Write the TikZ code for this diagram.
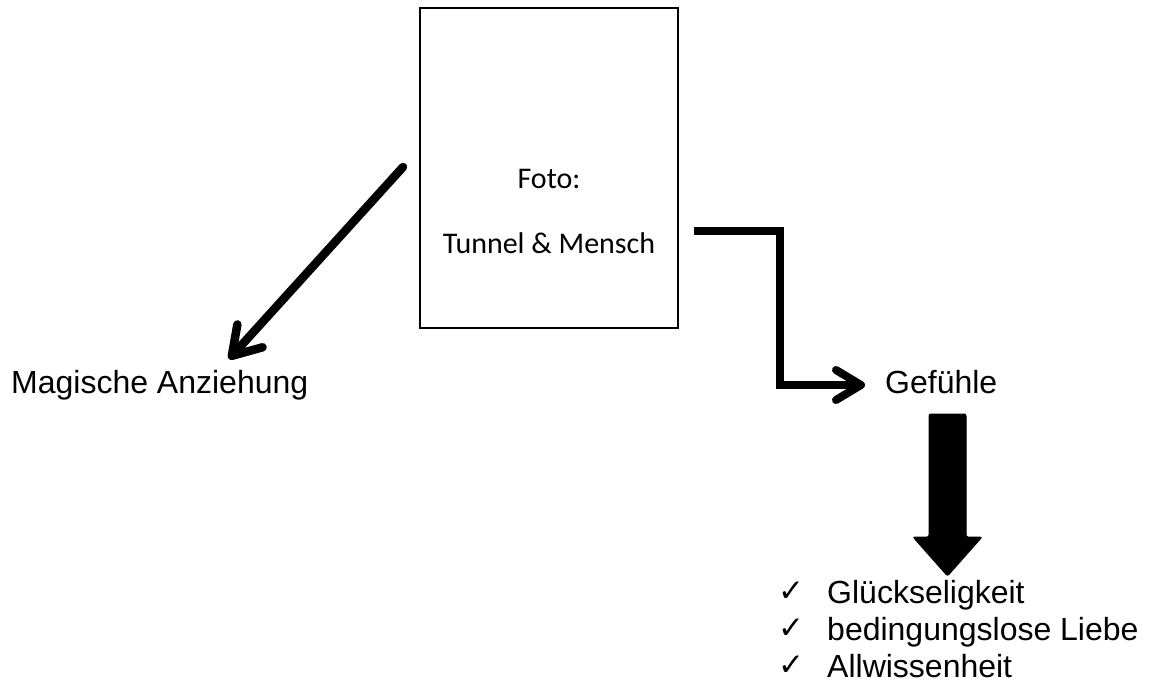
\documentclass[tikz,border=0pt]{standalone}
\usepackage{fontspec}
\setmainfont{Liberation Sans}
\newfontfamily\calibrifont{Carlito}
\newfontfamily\symfont{DejaVu Sans}
\usetikzlibrary{arrows.meta}
\tikzset{
  arialtext/.style={inner sep=0pt, anchor=base west, font=\fontsize{32}{37}\selectfont},
  boxtext/.style={inner sep=0pt, anchor=base, font=\calibrifont\fontsize{30}{36}\selectfont},
  checkmark/.style={inner sep=0pt, anchor=base west, font=\symfont\fontsize{31}{36}\selectfont},
  photobox/.style={draw, line width=1.5pt, minimum width=258pt, minimum height=320pt, inner sep=0pt},
  thickarrow/.style={line width=8.5pt, line cap=round},
  blockarrow/.style={fill=black, draw=black, line width=1pt, rounded corners=2pt}
}
\begin{document}
\begin{tikzpicture}[x=1pt,y=-1pt]
\useasboundingbox (0,0) rectangle (1149,685);
% photo box
\node[photobox] (photo) at (549,168) {};
\node[boxtext] (foto) at (549,188) {Foto:};
\node[boxtext] (tunnel) at (549,253) {Tunnel \& Mensch};
% labels
\node[arialtext] (magic) at (11,393) {Magische Anziehung};
\node[arialtext] (feel) at (885,393) {Gefühle};
% diagonal arrow
\coordinate (d1) at (403,167);
\coordinate (d2) at (229,359);
\draw[thickarrow, -{Straight Barb[length=27pt,width=34pt,round]}] (d1) -- (d2);
% elbow arrow
\coordinate (e1) at (694,231);
\coordinate (e2) at (780,231);
\coordinate (e3) at (780,385);
\coordinate (e4) at (865,385);
\draw[line width=8pt, line join=miter, -{Straight Barb[length=25pt,width=30pt,round]}] (e1) -- (e2) -- (e3) -- (e4);
% block arrow
\coordinate (b1) at (929,537);
\coordinate (b2) at (929,414);
\coordinate (b3) at (966,414);
\coordinate (b4) at (966,537);
\coordinate (b5) at (982,537);
\coordinate (b6) at (947.5,576);
\coordinate (b7) at (913,537);
\filldraw[blockarrow] (b1) -- (b2) -- (b3) -- (b4) -- (b5) -- (b6) -- (b7) -- cycle;
% checklist
\node[checkmark] (c1) at (778,601) {✓};
\node[checkmark] (c2) at (778,638) {✓};
\node[checkmark] (c3) at (778,675) {✓};
\node[arialtext] (l1) at (827,603) {Glückseligkeit};
\node[arialtext] (l2) at (827,640) {bedingungslose Liebe};
\node[arialtext] (l3) at (827,677) {Allwissenheit};
\end{tikzpicture}
\end{document}
